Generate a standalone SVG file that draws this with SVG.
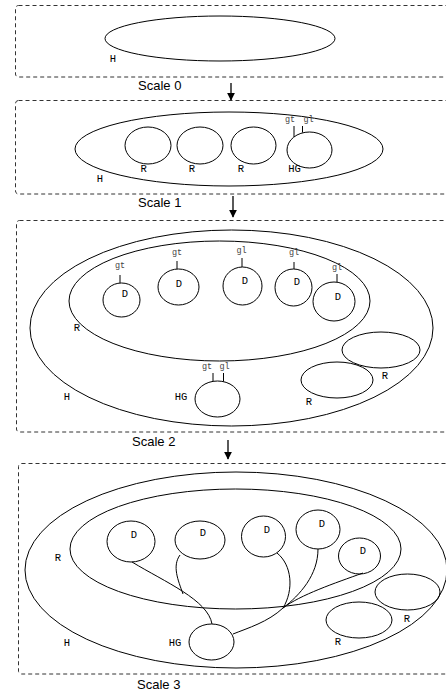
<svg xmlns="http://www.w3.org/2000/svg" width="446" height="692" viewBox="0 0 446 692">
<defs>
<style>
.box{fill:none;stroke:#333;stroke-width:1;stroke-dasharray:4,3}
.sh{fill:none;stroke:#000;stroke-width:1}
.lbl{font-family:"Liberation Mono",monospace;font-size:10.5px;fill:#000;text-anchor:middle}
.g{font-family:"Liberation Mono",monospace;font-size:8.5px;fill:#444;text-anchor:middle}
.sc{font-family:"Liberation Sans",Arial,sans-serif;font-size:13px;fill:#000}
.tick{stroke:#000;stroke-width:1;fill:none}
.arr{stroke:#000;stroke-width:1.3;fill:none}
</style>
<marker id="ah" viewBox="0 0 10 10" refX="9" refY="5" markerWidth="8" markerHeight="8" markerUnits="userSpaceOnUse" orient="auto">
<path d="M0,0 L10,5 L0,10 z" fill="#000"/>
</marker>
</defs>

<g id="scale0">
<rect class="box" x="15.5" y="5.5" width="440" height="71.5" rx="3"/>
<g id="s0-H"><ellipse class="sh" cx="220" cy="38.5" rx="115" ry="22.5"/><text class="lbl" x="113" y="62">H</text></g>
<text class="sc" x="138" y="90">Scale 0</text>
</g>

<g id="scale1">
<rect class="box" x="15.5" y="100.5" width="440" height="93.5" rx="3"/>
<g id="s1-H"><ellipse class="sh" cx="229" cy="149" rx="154" ry="37"/><text class="lbl" x="100" y="181.5">H</text></g>
<g id="s1-R1"><ellipse class="sh" cx="148" cy="145.5" rx="23" ry="18.5"/><text class="lbl" x="143.7" y="171.5">R</text></g>
<g id="s1-R2"><ellipse class="sh" cx="200" cy="145.5" rx="23" ry="18.5"/><text class="lbl" x="192" y="171.5">R</text></g>
<g id="s1-R3"><ellipse class="sh" cx="253.5" cy="145.5" rx="22.5" ry="18.5"/><text class="lbl" x="241" y="171.5">R</text></g>
<g id="s1-HG"><ellipse class="sh" cx="309.5" cy="150" rx="22.5" ry="18"/><text class="lbl" x="294.5" y="171.5">HG</text>
<line class="tick" x1="294" y1="126" x2="294" y2="137"/><line class="tick" x1="302.5" y1="126" x2="302.5" y2="132.5"/>
<text class="g" x="290" y="121.5">gt</text><text class="g" x="308.5" y="121.5">gl</text></g>
<text class="sc" x="138" y="206.5">Scale 1</text>
</g>

<g id="scale2">
<rect class="box" x="16.5" y="220.5" width="440" height="211.5" rx="3"/>
<g id="s2-H"><ellipse class="sh" cx="231.5" cy="328" rx="201.5" ry="98"/><text class="lbl" x="67" y="399.5">H</text></g>
<g id="s2-R"><ellipse class="sh" cx="219.5" cy="301" rx="150.5" ry="60"/><text class="lbl" x="77" y="330.5">R</text></g>
<g id="s2-D1"><ellipse class="sh" cx="121.5" cy="300" rx="18.5" ry="17"/><text class="lbl" x="125" y="296.5">D</text>
<line class="tick" x1="120" y1="275" x2="120" y2="283"/><text class="g" x="120" y="267.5">gt</text></g>
<g id="s2-D2"><ellipse class="sh" cx="178.5" cy="287" rx="20.5" ry="18"/><text class="lbl" x="179" y="286.5">D</text>
<line class="tick" x1="177" y1="261" x2="177" y2="269"/><text class="g" x="177" y="254.5">gt</text></g>
<g id="s2-D3"><ellipse class="sh" cx="242.5" cy="286" rx="19.5" ry="19"/><text class="lbl" x="245" y="283.5">D</text>
<line class="tick" x1="242" y1="258" x2="242" y2="267"/><text class="g" x="241.5" y="253">gl</text></g>
<g id="s2-D4"><ellipse class="sh" cx="293.5" cy="287.5" rx="18.5" ry="18.5"/><text class="lbl" x="297" y="284.5">D</text>
<line class="tick" x1="294" y1="262" x2="294" y2="269"/><text class="g" x="294" y="255">gl</text></g>
<g id="s2-D5"><ellipse class="sh" cx="334" cy="301.5" rx="21" ry="19.5"/><text class="lbl" x="338" y="299.5">D</text>
<line class="tick" x1="337" y1="274" x2="337" y2="282"/><text class="g" x="337" y="270">gl</text></g>
<g id="s2-R2"><ellipse class="sh" cx="381" cy="350" rx="39" ry="18"/><text class="lbl" x="385" y="378.5">R</text></g>
<g id="s2-R3"><ellipse class="sh" cx="337" cy="380" rx="36" ry="18"/><text class="lbl" x="309" y="404.5">R</text></g>
<g id="s2-HG"><ellipse class="sh" cx="217.5" cy="399" rx="22.5" ry="18"/><text class="lbl" x="181" y="399.5">HG</text>
<line class="tick" x1="213" y1="373" x2="213" y2="381.5"/><line class="tick" x1="223.5" y1="373" x2="223.5" y2="381.5"/>
<text class="g" x="207" y="368.5">gt</text><text class="g" x="224.5" y="368.5">gl</text></g>
<text class="sc" x="132" y="445.5">Scale 2</text>
</g>

<g id="scale3">
<rect class="box" x="18.5" y="463.5" width="440" height="210.5" rx="3"/>
<g id="s3-H"><ellipse class="sh" cx="236" cy="570" rx="211" ry="98"/><text class="lbl" x="67" y="645.5">H</text></g>
<g id="s3-R"><ellipse class="sh" cx="235.5" cy="549" rx="165.5" ry="60"/><text class="lbl" x="58" y="560.5">R</text></g>
<g id="s3-D1"><ellipse class="sh" cx="131" cy="541.5" rx="24" ry="20.5"/><text class="lbl" x="134" y="537.5">D</text></g>
<g id="s3-D2"><ellipse class="sh" cx="200" cy="540" rx="25" ry="19"/><text class="lbl" x="203" y="535.5">D</text></g>
<g id="s3-D3"><ellipse class="sh" cx="263.5" cy="536.5" rx="22" ry="20.5"/><text class="lbl" x="267" y="532.5">D</text></g>
<g id="s3-D4"><ellipse class="sh" cx="318" cy="529.5" rx="22" ry="19.5"/><text class="lbl" x="322" y="526.5">D</text></g>
<g id="s3-D5"><ellipse class="sh" cx="359.5" cy="556" rx="21" ry="18"/><text class="lbl" x="363" y="553.5">D</text></g>
<g id="s3-R2"><ellipse class="sh" cx="407.5" cy="592" rx="32.5" ry="18"/><text class="lbl" x="407" y="621.5">R</text></g>
<g id="s3-R3"><ellipse class="sh" cx="359" cy="620" rx="33" ry="18"/><text class="lbl" x="338" y="644.5">R</text></g>
<g id="s3-HG"><ellipse class="sh" cx="211.5" cy="642" rx="22.5" ry="18"/><text class="lbl" x="175" y="645.5">HG</text></g>
<text class="sc" x="137" y="689">Scale 3</text>
</g>

<g id="connectors">
<line class="arr" x1="231" y1="83" x2="231" y2="100" marker-end="url(#ah)"/>
<line class="arr" x1="233" y1="196" x2="233" y2="217" marker-end="url(#ah)"/>
<line class="arr" x1="228" y1="440" x2="228" y2="459" marker-end="url(#ah)"/>
<path class="sh" d="M132,562 C165,582 208,600 212,624"/>
<path class="sh" d="M180,555 C172,566 178,580 183,594"/>
<path class="sh" d="M277,553 C292,565 294,590 283,608"/>
<path class="sh" d="M318,549 C318,575 300,595 283,608"/>
<path class="sh" d="M363,573 C335,583 300,595 283,608"/>
<path class="sh" d="M283,608 C268,622 248,628 233,634"/>
</g>
</svg>
